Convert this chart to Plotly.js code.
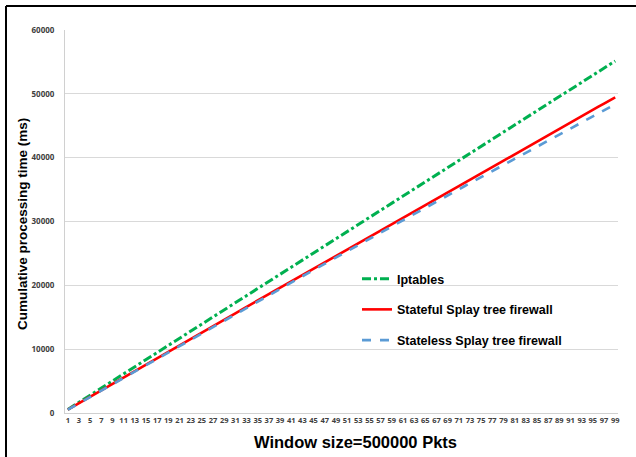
<!DOCTYPE html>
<html><head><meta charset="utf-8">
<script src="https://cdn.plot.ly/plotly-3.0.1.min.js"></script>
<style>html,body{margin:0;padding:0;background:#fff}#chart{width:636px;height:457px}</style>
</head><body><div id="chart"></div>
<script>
const windows = [1,2,3,4,5,6,7,8,9,10,11,12,13,14,15,16,17,18,19,20,21,22,23,24,25,26,27,28,29,30,31,32,33,34,35,36,37,38,39,40,41,42,43,44,45,46,47,48,49,50,51,52,53,54,55,56,57,58,59,60,61,62,63,64,65,66,67,68,69,70,71,72,73,74,75,76,77,78,79,80,81,82,83,84,85,86,87,88,89,90,91,92,93,94,95,96,97,98,99];
const iptables = [560,1120,1690,2240,2790,3350,3900,4460,5010,5570,6130,6690,7240,7800,8360,8910,9470,10030,10590,11140,11700,12250,12810,13370,13930,14480,15040,15600,16150,16710,17270,17820,18380,18940,19500,20050,20610,21170,21720,22280,22840,23390,23950,24510,25070,25620,26180,26740,27290,27850,28410,28960,29520,30080,30640,31190,31750,32310,32860,33420,33980,34530,35090,35650,36210,36760,37320,37880,38430,38990,39550,40100,40660,41220,41780,42330,42890,43450,44000,44560,45120,45670,46230,46790,47350,47900,48460,49020,49570,50130,50690,51240,51800,52360,52920,53470,54030,54590,55140];
const stateful = [510,1010,1520,2020,2530,3030,3540,4040,4550,5050,5560,6060,6570,7070,7580,8080,8580,9090,9590,10090,10600,11100,11600,12110,12610,13110,13610,14120,14620,15120,15620,16130,16630,17130,17630,18130,18630,19130,19640,20140,20640,21140,21640,22140,22640,23140,23640,24140,24640,25140,25640,26140,26640,27130,27630,28130,28630,29130,29630,30130,30620,31120,31620,32120,32620,33110,33610,34110,34600,35100,35600,36100,36590,37090,37580,38080,38580,39070,39570,40060,40560,41050,41550,42050,42540,43040,43530,44020,44520,45010,45510,46000,46500,46990,47480,47980,48470,48960,49460];
const stateless = [510,1010,1520,2020,2530,3030,3530,4030,4540,5040,5550,6040,6550,7050,7560,8050,8550,9050,9550,10050,10550,11050,11540,12050,12540,13030,13530,14030,14530,15020,15510,16020,16510,17000,17490,17990,18480,18970,19470,19960,20450,20940,21430,21920,22410,22900,23390,23880,24370,24860,25350,25840,26330,26800,27290,27780,28270,28750,29240,29730,30200,30690,31180,31660,32150,32620,33110,33590,34070,34550,35040,35520,35990,36480,36950,37430,37920,38390,38870,39340,39830,40300,40780,41260,41730,42210,42680,43150,43630,44100,44580,45050,45530,46000,46470,46950,47420,47880,48360];
const seriesNames = ['Iptables','Stateful Splay tree firewall','Stateless Splay tree firewall'];
const xTicks = windows.filter(w => w % 2 === 1);
const xTitle = 'Window size=500000 Pkts';
const yTitle = 'Cumulative processing time (ms)';

const W = 636, H = 457, mL = 65, mR = 18, mT = 30, mB = 44;
const pw = W - mL - mR, ph = H - mT - mB;
const px = v => (v - mL) / pw;
const py = v => (H - mB - v) / ph;

const narrow = "'Liberation Sans Narrow', 'Open Sans', sans-serif";
const wide = "'Liberation Sans', Arial, sans-serif";
const traces = [
  {x: windows, y: iptables, name: seriesNames[0], mode: 'lines', legendgroup: 'a',
   line: {color: '#00B050', width: 3, dash: 'dashdot'}},
  {x: windows, y: stateful, name: seriesNames[1], mode: 'lines', legendgroup: 'b',
   line: {color: '#FF0000', width: 2.6}},
  {x: windows, y: stateless, name: seriesNames[2], mode: 'lines', legendgroup: 'c',
   line: {color: '#5B9BD5', width: 2.6, dash: 'dash'}}
];
const layout = {
  width: W, height: H,
  margin: {l: mL, r: mR, t: mT, b: mB, pad: 0},
  paper_bgcolor: '#fff', plot_bgcolor: '#fff',
  font: {family: narrow, color: '#404040'},
  showlegend: true,
  legend: {x: px(357), y: py(264), xanchor: 'left', yanchor: 'top', bgcolor: 'rgba(0,0,0,0)',
    font: {size: 12.5, color: '#000', family: wide, weight: 'bold'}, tracegroupgap: 11.5, traceorder: 'grouped'},
  xaxis: {range: [0.5, 99.5], tickmode: 'array', tickvals: xTicks, ticktext: xTicks.map(String),
    tickangle: 0, tickfont: {size: 7.5, color: '#404040', family: narrow, weight: 'bold'},
    showgrid: false, zeroline: false, showline: true, linecolor: '#D0D0D0', linewidth: 1, ticks: ''},
  yaxis: {range: [0, 60000], dtick: 10000, tick0: 0, tickformat: 'd',
    tickfont: {size: 8, color: '#404040', family: narrow, weight: 'bold'},
    showgrid: true, gridcolor: '#D9D9D9', gridwidth: 1, zeroline: false,
    showline: true, linecolor: '#D0D0D0', linewidth: 1, ticks: '', ticklabelstandoff: 8},
  annotations: [
    {text: xTitle, xref: 'paper', yref: 'paper', x: px(355), y: py(442), xanchor: 'center', yanchor: 'middle',
     showarrow: false, font: {size: 16.5, color: '#000', family: wide, weight: 'bold'}},
    {text: yTitle, xref: 'paper', yref: 'paper', x: px(22), y: py(224), xanchor: 'center', yanchor: 'middle',
     textangle: -90, showarrow: false, font: {size: 13.5, color: '#000', family: wide, weight: 'bold'}}
  ],
  shapes: [
    {type: 'line', xref: 'paper', yref: 'paper', x0: px(6), x1: px(640), y0: py(6), y1: py(6), line: {color: '#000', width: 2}},
    {type: 'line', xref: 'paper', yref: 'paper', x0: px(6), x1: px(6), y0: py(6), y1: py(470), line: {color: '#000', width: 2}}
  ]
};
Plotly.newPlot('chart', traces, layout, {displayModeBar: false, staticPlot: true});
</script></body></html>
